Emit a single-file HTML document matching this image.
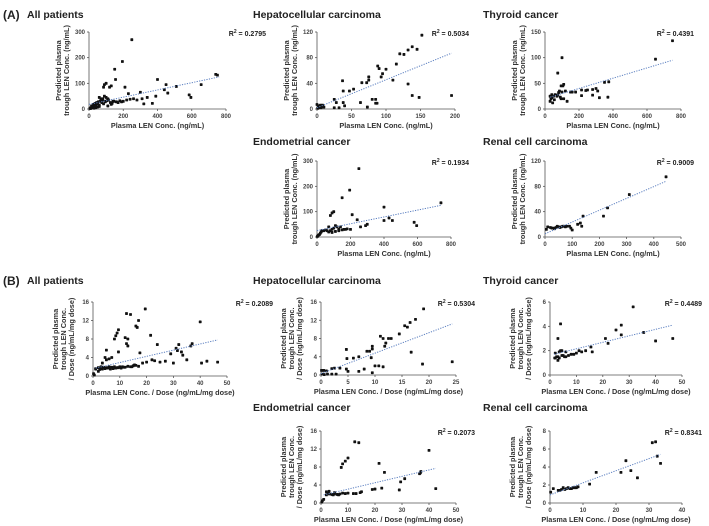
<!DOCTYPE html>
<html><head><meta charset="utf-8"><style>
html,body{margin:0;padding:0;background:#fff;}
svg{display:block;font-family:"Liberation Sans",Arial,sans-serif;}
.tick{font-size:6px;fill:#444;font-weight:bold;}
.axt{font-size:7.3px;fill:#333;font-weight:bold;}
.ttl{font-size:10.5px;fill:#222;font-weight:bold;}
.r2{font-size:7px;fill:#222;font-weight:bold;}
</style></head><body>
<svg id="fig" width="709" height="526" viewBox="0 0 709 526">
<text x="3" y="19" class="ttl" style="font-size:12px">(A)</text>
<text x="3" y="285" class="ttl" style="font-size:12px">(B)</text>
</svg>
<script>
// ---- data ----
const a1X=[250,195,150,155,400,740,750,655,450,510,585,595,440,460,370,320,300,210,230,100,90,85,130,120,60,70,80,95,110,140,160,180,200,220,240,260,280,310,340,390,50,40,30,20,10,5,15,25,35,45,55,65,75,85,95,105,115,125,135,145,100,90,80,70,60,50,40,30,20,10,170,190,60,110,130];
const a1Y=[270,185,155,115,115,135,132,95,95,88,55,45,75,62,22,20,65,85,60,100,95,85,90,85,45,40,35,30,40,30,28,32,30,35,38,40,35,40,45,50,20,15,10,8,5,2,12,18,22,25,28,30,25,20,28,32,35,25,22,30,45,50,40,35,10,8,5,3,4,2,25,28,15,12,18];
const a2X=[152,138,145,132,126,120,115,88,90,100,95,93,110,75,75,72,65,37,38,53,47,132,138,148,195,63,80,85,85,87,73,25,28,38,40,25,32,0,2,5,8,3,6,10,1];
const a2Y=[115,97,93,92,85,86,70,67,63,62,55,50,45,50,45,41,41,44,28,31,28,39,21,18,21,10,15,15,9,9,3,15,10,10,5,2,2,7,5,6,6,2,2,3,1];
const a3X=[750,650,100,75,110,105,95,375,350,370,320,300,310,280,280,250,240,215,215,180,160,130,110,90,80,85,75,70,60,50,40,35,30,30,45,40,55,100,120,95,150];
const a3Y=[133,97,100,70,48,45,45,53,52,23,22,40,35,38,27,37,36,37,26,33,33,15,20,23,32,35,27,25,28,25,28,20,15,25,12,22,18,33,35,20,33];
const a4X=[250,195,150,100,90,80,400,740,430,450,400,580,595,210,240,260,300,290,200,170,150,130,120,110,100,90,80,70,60,50,40,30,25,20,15,10,5,2,130,180,160,70,90,110,140];
const a4Y=[270,185,155,100,95,85,118,135,75,65,65,58,45,88,68,40,50,45,30,30,28,25,40,45,35,30,25,40,25,28,25,25,20,15,10,8,5,2,30,32,30,20,18,22,40];
const a5X=[445,310,230,215,140,130,135,120,100,95,90,80,70,60,50,40,35,30,25,20,10,5,45,55,65,75];
const a5Y=[95,67,46,33,33,22,17,20,11,14,17,17,17,16,16,15,13,14,14,15,16,12,17,15,17,16];
const b1X=[19.5,12.5,14,17,16,16.5,9.5,9,8.5,8,12,13,12.5,13,17.5,21.5,24,40,37,36.5,32,31,33,31.5,35,33.5,29,30,40.5,42.5,46.5,27,25,22,20,18.5,23,5,4.5,5,7,6,9.5,2,1,0.5,0.2,3,3.5,1,2,3,4,5,6,7,8,9,10,11,12,13,14,15,16,17,2.5,3.5,4.5,5.5,6.5,7.5,8.5,9.5,10.5,11.5,14.5,15.5];
const b1Y=[14.5,13.5,13.3,12,10.8,10.5,10,9.3,8.7,8,8.3,8,7,6.5,5,8.8,6.8,11.7,7,6.5,6.8,6,5.2,5.5,3.5,4.5,4.8,2.8,2.8,3.2,3,3.2,3,3.5,3,2.8,3.3,5.6,4,3.5,4,3.7,5.2,1,1.5,0.2,0.5,2,2.8,1.6,1.8,1.7,1.9,1.8,2,1.9,2,1.8,2,2,1.9,2.1,2,2.2,2.3,2.1,1.4,1.5,1.6,1.7,1.5,1.6,1.7,1.8,1.7,1.9,2,2.4];
const b2X=[19,17.5,16.5,15.5,16,14.5,11,11.5,12.5,13,12,11.8,9.5,9.5,9,8.5,4.7,4.8,6,7,9.3,16.7,10,10.7,11.5,18.8,24.3,8,7,4.7,5,9.5,3.5,2.5,2,2,2.8,0.1,0.5,1,0.2,0.6,1.2];
const b2Y=[14.5,12.2,11.5,10.8,10.5,9,8.5,8,8,8,7,6.3,6.3,5.7,5.2,5.2,5.6,3.6,3.7,4,3.8,5,2,2,1.8,2.4,2.9,1.3,0.8,1.3,0.8,0.5,1.5,1.5,1.4,0.2,0.2,1,1,0.9,0.2,0.1,0.2];
const b3X=[31.5,4,3,27,25,27,21,22,35.5,40,46.5,15.5,16,13.5,11,12,10,9,8,7,6,6,5,4.5,4,3.5,3,2,2,3,3.5,4.5,5.5,2.5,1.8];
const b3Y=[5.6,4.2,3,4.1,3.7,3.3,3,2.6,3.5,2.8,3,2.3,1.9,2,2,1.9,1.8,1.7,1.7,1.6,1.9,1.5,1.6,2,2,1.9,1.5,1.4,1.8,1.2,1.4,1.6,1.5,1.5,1.4];
const b4X=[12.5,14,10,9,8,7.5,40,21.5,23.5,36.5,37,36.8,31,29.5,29,42.5,22.5,20,19,15,14.5,13,12,10,9,8,7,6,5,4,3,2,2,3,2.5,5,4.5,6.5,1,0.5,0.3];
const b4Y=[13.6,13.4,10,9.3,8.7,7.9,11.7,8.8,6.8,6.5,7,6.7,5.4,4.7,2.9,3.2,3.3,3.1,3,2.5,2.3,2.1,2.1,2.2,2.1,2.2,2,1.9,2,1.9,2,1.8,2.5,2.6,2.2,2.3,1.8,1.8,0.8,0.5,0.2];
const b5X=[31,32,32.5,33.5,23,24.5,21.5,26.5,14,12,8.5,8,7,6,5,4,3.5,3,2.5,1,0.2,5.5,7.5,4.5,6.5];
const b5Y=[6.7,6.8,5.2,4.4,4.7,3.6,3.4,2.8,3.4,2.1,1.8,1.7,1.7,1.6,1.6,1.7,1.5,1.4,1.4,1.6,1.2,1.7,1.7,1.5,1.6];
// trend lines: [x0, y0, x1, y1] in data units
const a1Trend=[0,18,760,125], a2Trend=[0,2,195,87], a3Trend=[30,23,750,95], a4Trend=[0,25,740,125], a5Trend=[0,5,445,88];
const b1Trend=[1,1.7,46.5,7.8], b2Trend=[0,0.3,24.3,11.2], b3Trend=[1.5,1.7,46.5,4.1], b4Trend=[1,1.8,42.5,7.7], b5Trend=[0,0.9,33.5,5.4];
const a1XT=[0,200,400,600,800], a1YT=[0,100,200,300];
const a2XT=[0,50,100,150,200], a2YT=[0,40,80,120];
const a3XT=[0,200,400,600,800], a3YT=[0,50,100,150];
const a4XT=[0,200,400,600,800], a4YT=[0,100,200,300];
const a5XT=[0,100,200,300,400,500], a5YT=[0,40,80,120];
const b1XT=[0,10,20,30,40,50], b1YT=[0,4,8,12,16];
const b2XT=[0,5,10,15,20,25], b2YT=[0,4,8,12,16];
const b3XT=[0,10,20,30,40,50], b3YT=[0,2,4,6];
const b4XT=[0,10,20,30,40,50], b4YT=[0,4,8,12,16];
const b5XT=[0,10,20,30,40], b5YT=[0,2,4,6,8];
const titles=["All patients","Hepatocellular carcinoma","Thyroid cancer","Endometrial cancer","Renal cell carcinoma"];
const a_R2=["0.2795","0.5034","0.4391","0.1934","0.9009"];
const b_R2=["0.2089","0.5304","0.4489","0.2073","0.8341"];

// ---- layout ----
const NS="http://www.w3.org/2000/svg";
const svg=document.getElementById('fig');
function mk(tag,attrs,parent){const e=document.createElementNS(NS,tag);for(const k in attrs)e.setAttribute(k,attrs[k]);(parent||svg).appendChild(e);return e;}
function panel(p){
  const g=mk('g',{});
  
  
  const xMax=p.xt[p.xt.length-1], yMax=p.yt[p.yt.length-1];
  const sx=v=>p.x0+(v/xMax)*(p.x1-p.x0);
  const sy=v=>p.yb-(v/yMax)*(p.yb-p.yt0);
  const t=mk('text',{x:p.tx,y:p.ty,class:'ttl'},g);t.textContent=p.title;
  
  
  mk('line',{x1:p.x0,y1:p.yb,x2:p.x1,y2:p.yb,stroke:'#555','stroke-width':0.8},g);
  mk('line',{x1:p.x0,y1:p.yb,x2:p.x0,y2:p.yt0,stroke:'#555','stroke-width':0.8},g);
  p.xt.forEach(v=>{mk('line',{x1:sx(v),y1:p.yb,x2:sx(v),y2:p.yb+2,stroke:'#555','stroke-width':0.8},g);
    const tt=mk('text',{x:sx(v),y:p.yb+9,class:'tick','text-anchor':'middle'},g);tt.textContent=v;
    
    });
  p.yt.forEach(v=>{mk('line',{x1:p.x0-2,y1:sy(v),x2:p.x0,y2:sy(v),stroke:'#555','stroke-width':0.8},g);
    const tt=mk('text',{x:p.x0-4,y:sy(v)+2,class:'tick','text-anchor':'end'},g);tt.textContent=v;
    
    });
  const xl=mk('text',{x:(p.x0+p.x1)/2,y:p.yb+19,class:'axt','text-anchor':'middle'},g);xl.textContent=p.xlab;
  
  
  const cy=(p.yb+p.yt0)/2;
  p.ylab.forEach((s,i)=>{const off=p.ylab.length===2?[-28,-20][i]:[-35,-27,-19][i];
    const yl=mk('text',{x:p.x0+off,y:cy,class:'axt','text-anchor':'middle',transform:`rotate(-90 ${p.x0+off} ${cy})`},g);yl.textContent=s;
    
    });
  p.xs.forEach((v,i)=>{const r=mk('rect',{x:sx(v)-1.4,y:sy(p.ys[i])-1.4,width:2.8,height:2.8,rx:0.6,fill:'#111'},g);
    
    });
  const tl=mk('line',{x1:sx(p.tr[0]),y1:sy(p.tr[1]),x2:sx(p.tr[2]),y2:sy(p.tr[3]),stroke:'#5b7fc0','stroke-width':1,'stroke-dasharray':'1.2,1.3'},g);
  
  
  const r2=mk('text',{x:p.rx,y:p.yt0+4,class:'r2','text-anchor':'end'},g);
  r2.innerHTML='R<tspan baseline-shift="super" font-size="5">2</tspan> = '+p.r2;
  
  
}
const xA="Plasma LEN Conc. (ng/mL)", xB="Plasma LEN Conc. / Dose (ng/mL/mg  dose)";
const yA=["Predicted plasma","trough LEN Conc. (ng/mL)"], yB=["Predicted plasma","trough LEN Conc.","/ Dose (ng/mL/mg dose)"];
panel({name:'a-all-patients',title:titles[0],tx:27,ty:18,x0:89,x1:226,yt0:32,yb:109,xt:a1XT,yt:a1YT,xs:a1X,ys:a1Y,tr:a1Trend,r2:a_R2[0],rx:266,xlab:xA,ylab:yA});
panel({name:'a-hepatocellular',title:titles[1],tx:253,ty:18,x0:317,x1:455,yt0:32,yb:109,xt:a2XT,yt:a2YT,xs:a2X,ys:a2Y,tr:a2Trend,r2:a_R2[1],rx:469,xlab:xA,ylab:yA});
panel({name:'a-thyroid',title:titles[2],tx:483,ty:18,x0:545,x1:681,yt0:32,yb:109,xt:a3XT,yt:a3YT,xs:a3X,ys:a3Y,tr:a3Trend,r2:a_R2[2],rx:694,xlab:xA,ylab:yA});
panel({name:'a-endometrial',title:titles[3],tx:253,ty:145,x0:317,x1:451,yt0:161,yb:237,xt:a4XT,yt:a4YT,xs:a4X,ys:a4Y,tr:a4Trend,r2:a_R2[3],rx:469,xlab:xA,ylab:yA});
panel({name:'a-renal',title:titles[4],tx:483,ty:145,x0:545,x1:681,yt0:161,yb:237,xt:a5XT,yt:a5YT,xs:a5X,ys:a5Y,tr:a5Trend,r2:a_R2[4],rx:694,xlab:xA,ylab:yA});
panel({name:'b-all-patients',title:titles[0],tx:27,ty:284,x0:93,x1:227,yt0:302,yb:376,xt:b1XT,yt:b1YT,xs:b1X,ys:b1Y,tr:b1Trend,r2:b_R2[0],rx:273,xlab:xB,ylab:yB});
panel({name:'b-hepatocellular',title:titles[1],tx:253,ty:284,x0:321,x1:456,yt0:302,yb:375,xt:b2XT,yt:b2YT,xs:b2X,ys:b2Y,tr:b2Trend,r2:b_R2[1],rx:475,xlab:xB,ylab:yB});
panel({name:'b-thyroid',title:titles[2],tx:483,ty:284,x0:550,x1:682,yt0:302,yb:375,xt:b3XT,yt:b3YT,xs:b3X,ys:b3Y,tr:b3Trend,r2:b_R2[2],rx:702,xlab:xB,ylab:yB});
panel({name:'b-endometrial',title:titles[3],tx:253,ty:411,x0:321,x1:456,yt0:431,yb:503,xt:b4XT,yt:b4YT,xs:b4X,ys:b4Y,tr:b4Trend,r2:b_R2[3],rx:475,xlab:xB,ylab:yB});
panel({name:'b-renal',title:titles[4],tx:483,ty:411,x0:550,x1:682,yt0:431,yb:503,xt:b5XT,yt:b5YT,xs:b5X,ys:b5Y,tr:b5Trend,r2:b_R2[4],rx:702,xlab:xB,ylab:yB});
</script>
</body></html>
